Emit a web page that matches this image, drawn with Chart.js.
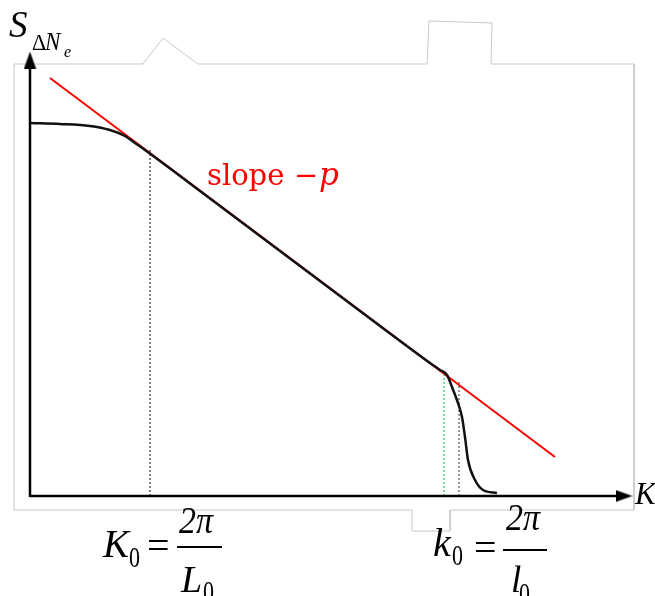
<!DOCTYPE html>
<html lang="en">
<head>
  <meta charset="UTF-8" />
  <title>Spectrum with power-law slope</title>
  <style>
    body {
      margin: 0;
      background: #fff;
    }
    canvas {
      display: block;
    }
  </style>
</head>
<body>
  <canvas id="spectrum" width="655" height="596"></canvas>

  <script src="https://cdn.jsdelivr.net/npm/chart.js"></script>
  <script>
    // wavenumber K (x) and spectral density S (y), origin at the axis corner
    const specK = [0, 30, 60, 80, 95, 105, 115, 170, 250, 330, 400, 410, 417, 422, 428, 432, 435, 438, 445, 453, 467];
    const specS = [373, 372, 370, 366, 360, 353, 346, 305, 245, 185, 133, 126, 121, 109, 93, 79, 59, 36, 16, 6, 3];

    // red power-law fit, slope -p
    const fitK = [20, 525];
    const fitS = [418, 39];

    // vertical markers: K0 = 2pi/L0, and the two lines near k0 = 2pi/l0
    const bigK0 = 120, bigK0Top = 348;
    const greenK = 414, greenTop = 123;
    const smallK0 = 429, smallK0Top = 116;

    // axis ends (centre of the arrow heads)
    const axisKEnd = 594;
    const axisSEnd = 436;

    // light grey outline left over in the original figure
    const frameK = [-16, -16, 113, 133, 168, 397, 399, 462, 461, 604, 604, 420, 420, 382, 382, -16];
    const frameS = [-14, 432, 432, 458, 432, 432, 475, 473, 432, 432, -14, -14, -35, -35, -14, -14];

    const pts = (xs, ys) => xs.map((x, i) => ({ x: x, y: ys[i] }));

    // slim arrow head, pointing right
    const arrow = document.createElement('canvas');
    arrow.width = 17;
    arrow.height = 13;
    const a = arrow.getContext('2d');
    a.fillStyle = '#000';
    a.beginPath();
    a.moveTo(0, 0.5);
    a.lineTo(17, 6.5);
    a.lineTo(0, 12.5);
    a.closePath();
    a.fill();

    const labels = {
      id: 'labels',
      afterDatasetsDraw(chart) {
        const c = chart.ctx;
        const X = v => chart.scales.x.getPixelForValue(v);
        const Y = v => chart.scales.y.getPixelForValue(v);
        const ox = X(0), oy = Y(0);
        // text with a slight vertical stretch, like the original glyphs
        const txt = (s, font, x, y, sy) => {
          c.save();
          c.font = font;
          c.translate(x, y);
          c.scale(1, sy || 1);
          c.fillText(s, 0, 0);
          c.restore();
        };
        c.save();
        c.fillStyle = '#000';
        c.textBaseline = 'alphabetic';
        c.textAlign = 'left';

        // S_{ΔN_e}
        const top = Y(axisSEnd + 8);
        txt('S', 'italic 37px "Liberation Serif"', ox - 21, top - 15, 1.05);
        txt('Δ', '22px "Liberation Serif"', ox + 2, top - 2, 1.05);
        txt('N', 'italic 23px "Liberation Serif"', ox + 15, top - 2, 1.05);
        txt('e', 'italic 16px "Liberation Serif"', ox + 34, top + 5);

        // K at arrow
        txt('K', 'italic 31px "Liberation Serif"', X(axisKEnd + 8) + 3, oy + 8, 1.05);

        // slope -p
        c.fillStyle = '#ff0000';
        txt('slope', '29px "DejaVu Serif"', ox + 177, 185);
        txt('\u2212', '29px "DejaVu Serif"', ox + 264, 185);
        txt('p', 'italic 31px "DejaVu Serif"', ox + 289, 185);
        c.fillStyle = '#000';

        const fracBar = (x1, x2, y) => {
          c.fillRect(x1, y, x2 - x1, 2);
        };

        // K0 = 2π / L0
        txt('K', 'italic 39px "Liberation Serif"', 103, 557, 1.0);
        txt('0', '22px "Liberation Serif"', 129, 567, 1.3);
        txt('=', '40px "Liberation Serif"', 147, 559, 1.0);
        txt('2π', 'italic 34px "Liberation Serif"', 179, 533, 1.1);
        fracBar(177, 222, 546);
        txt('L', 'italic 38px "Liberation Serif"', 181, 592, 1.0);
        txt('0', '22px "Liberation Serif"', 203, 601, 1.3);

        // k0 = 2π / l0
        txt('k', 'italic 40px "Liberation Serif"', 433, 556, 1.0);
        txt('0', '22px "Liberation Serif"', 452, 565, 1.3);
        txt('=', '40px "Liberation Serif"', 474, 561, 1.0);
        txt('2π', 'italic 34px "Liberation Serif"', 506, 530, 1.1);
        fracBar(503, 547, 549);
        txt('l', 'italic 37px "Liberation Serif"', 511, 592, 1.0);
        txt('0', '22px "Liberation Serif"', 519, 603, 1.3);
        c.restore();
      }
    };

    new Chart(document.getElementById('spectrum'), {
      type: 'line',
      data: {
        datasets: [
          {
            data: pts(specK, specS),
            borderColor: '#111',
            borderWidth: 2.5,
            cubicInterpolationMode: 'monotone',
            pointRadius: 0,
            order: 1
          },
          {
            data: pts(fitK, fitS),
            borderColor: '#ff0000',
            borderWidth: 2,
            pointRadius: 0,
            order: 2
          },
          {
            data: [{ x: bigK0, y: 0 }, { x: bigK0, y: bigK0Top }],
            borderColor: '#333',
            borderWidth: 1.2,
            borderDash: [2, 2],
            pointRadius: 0,
            order: 3
          },
          {
            data: [{ x: greenK, y: 0 }, { x: greenK, y: greenTop }],
            borderColor: '#22c55e',
            borderWidth: 1.2,
            borderDash: [2, 2],
            pointRadius: 0,
            order: 3
          },
          {
            data: [{ x: smallK0, y: 0 }, { x: smallK0, y: smallK0Top }],
            borderColor: '#555',
            borderWidth: 1.2,
            borderDash: [2, 2],
            pointRadius: 0,
            order: 3
          },
          {
            data: [{ x: 0, y: 0 }, { x: axisKEnd, y: 0 }],
            borderColor: '#000',
            borderWidth: 2.5,
            pointRadius: [0, 8],
            pointStyle: [false, arrow],
            pointRotation: 0,
            order: 0
          },
          {
            data: [{ x: 0, y: -1 }, { x: 0, y: axisSEnd }],
            borderColor: '#000',
            borderWidth: 2.5,
            pointRadius: [0, 8],
            pointStyle: [false, arrow],
            pointRotation: -90,
            order: 0
          },
          {
            data: pts(frameK, frameS),
            borderColor: '#c8c8c8',
            borderWidth: 1,
            pointRadius: 0,
            tension: 0,
            order: 9
          }
        ]
      },
      options: {
        responsive: false,
        animation: false,
        devicePixelRatio: 1,
        layout: { padding: 0, autoPadding: false },
        plugins: {
          legend: { display: false },
          tooltip: { enabled: false }
        },
        scales: {
          x: { type: 'linear', min: -30, max: 625, display: false },
          y: { type: 'linear', min: -100, max: 496, display: false }
        }
      },
      plugins: [labels]
    });
  </script>
</body>
</html>
